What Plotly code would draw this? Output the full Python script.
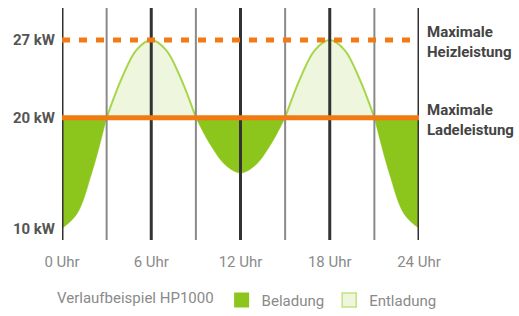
import plotly.graph_objects as go

# ---- data ----
hours = list(range(25))
power_kw = [10, 11.3, 15, 20, 23.5, 26.1, 27, 26.1, 23.5, 20, 17.5, 15.7, 15,
            15.7, 17.5, 20, 23.5, 26.1, 27, 26.1, 23.5, 20, 15, 11.3, 10]
lade_max_kw = 20
heiz_max_kw = 27
x_tick_vals = [0, 6, 12, 18, 24]
x_tick_text = ["0 Uhr", "6 Uhr", "12 Uhr", "18 Uhr", "24 Uhr"]
y_tick_vals = [10, 20, 27]
y_tick_text = ["10 kW", "20 kW", "27 kW"]
major_hours = [0, 6, 12, 18, 24]
minor_hours = [3, 9, 15, 21]
legend_title = "Verlaufbeispiel HP1000"
series_names = ["Beladung", "Entladung"]
right_labels = ["Maximale<br>Heizleistung", "Maximale<br>Ladeleistung"]

# ---- styles ----
FONT = "Roboto, Liberation Sans, sans-serif"
DARK_GREEN = "#8CC51C"
LIGHT_FILL = "#EFF6DE"
LIGHT_LINE = "#A6D64A"
ORANGE = "#F27A12"

fig = go.Figure()

# split the curve into segments at the points where it meets the base line
split = [i for i, v in enumerate(power_kw) if v == lade_max_kw]
bounds = [0] + split + [len(hours) - 1]
for a, b in zip(bounds[:-1], bounds[1:]):
    xs = hours[a:b + 1]
    ys = power_kw[a:b + 1]
    below = sum(ys) / len(ys) < lade_max_kw
    fig.add_trace(go.Scatter(x=[xs[0], xs[-1]], y=[lade_max_kw, lade_max_kw],
                             mode="lines", line=dict(width=0, color="rgba(0,0,0,0)"),
                             showlegend=False, hoverinfo="skip"))
    fig.add_trace(go.Scatter(
        x=xs, y=ys, mode="lines",
        line=dict(shape="spline", color=DARK_GREEN if below else LIGHT_LINE,
                  width=0.5 if below else 2),
        fill="tonexty", fillcolor=DARK_GREEN if below else LIGHT_FILL,
        showlegend=False))

# legend entries
fig.add_trace(go.Scatter(x=[None], y=[None], mode="markers", name=series_names[0],
                         marker=dict(symbol="square", size=15, color=DARK_GREEN,
                                     line=dict(width=0))))
fig.add_trace(go.Scatter(x=[None], y=[None], mode="markers", name=series_names[1],
                         marker=dict(symbol="square", size=14, color=LIGHT_FILL,
                                     line=dict(width=1.5, color="#C3E27F"))))

shapes = []
for h in minor_hours:
    shapes.append(dict(type="line", xref="x", yref="paper", x0=h, x1=h, y0=0, y1=1,
                       line=dict(color="#8A8A8A", width=2), layer="above"))
for h in major_hours:
    shapes.append(dict(type="line", xref="x", yref="paper", x0=h, x1=h, y0=0, y1=1,
                       line=dict(color="#333333", width=3), layer="above"))
shapes.append(dict(type="line", xref="x", yref="y", x0=hours[0], x1=hours[-1],
                   y0=lade_max_kw, y1=lade_max_kw,
                   line=dict(color=ORANGE, width=5), layer="above"))
shapes.append(dict(type="line", xref="x", yref="y", x0=hours[0], x1=hours[-1],
                   y0=heiz_max_kw, y1=heiz_max_kw,
                   line=dict(color=ORANGE, width=5, dash="8px,9px"), layer="above"))

annotations = []
for txt, yv in zip(right_labels, [heiz_max_kw, lade_max_kw]):
    annotations.append(dict(xref="paper", yref="y", x=1, y=yv, xshift=6, yshift=-2,
                            xanchor="left", yanchor="middle", align="left",
                            showarrow=False, text=txt,
                            font=dict(family=FONT, size=15, color="#444444",
                                      weight="bold")))

fig.update_layout(
    width=519, height=316,
    margin=dict(l=62, r=100, t=8, b=76, autoexpand=False),
    paper_bgcolor="white", plot_bgcolor="white",
    shapes=shapes, annotations=annotations,
    showlegend=True,
    legend=dict(orientation="h", x=55 / 519, xref="container", xanchor="left",
                yref="container", y=0.05, yanchor="middle",
                traceorder="normal",
                title=dict(text=legend_title, side="left",
                           font=dict(family=FONT, size=15, color="#8A8A8A")),
                font=dict(family=FONT, size=15, color="#8A8A8A"),
                bgcolor="rgba(0,0,0,0)", itemclick=False),
    xaxis=dict(range=[0, 24], tickvals=x_tick_vals, ticktext=x_tick_text,
               showgrid=False, zeroline=False, showline=False, ticks="",
               ticklabelstandoff=11,
               tickfont=dict(family=FONT, size=15, color="#8A8A8A")),
    yaxis=dict(range=[8.95, 29.9], tickvals=y_tick_vals, ticktext=y_tick_text,
               showgrid=False, zeroline=False, showline=False, ticks="",
               ticklabelstandoff=6,
               tickfont=dict(family=FONT, size=15, color="#555555", weight="bold")),
)

fig.write_html("out.html", config={"displayModeBar": False},
               post_script="document.body.style.margin='0';")
